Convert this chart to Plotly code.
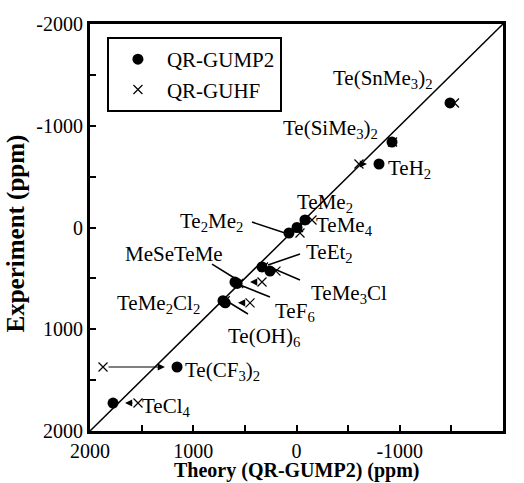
import plotly.graph_objects as go

# ---------------- data ----------------
compounds = ["Te(SnMe3)2", "Te(SiMe3)2", "TeH2", "TeMe4", "TeMe2", "Te2Me2",
             "TeEt2", "TeMe3Cl", "MeSeTeMe", "TeF6", "TeMe2Cl2", "Te(OH)6",
             "Te(CF3)2", "TeCl4"]
experiment = [-1224, -840, -624, -74, 0, 54,
              388, 428, 536, 550, 720, 740,
              1371, 1725]
theory_gump2 = [-1487, -925, -799, -82, -5, 73,
                334, 257, 596, 575, 712, 690,
                1157, 1777]
theory_guhf = [-1530, -930, -605, -150, -20, -34,
               320, 199, 334, 560, 690, 450,
               1874, 1535]
# arrow tips drawn from the GUHF value (None = no arrow)
arrow_tip = [None, None, -683, None, None, None,
             None, None, 450, None, None, 567,
             1274, 1661]

label_html = ["Te(SnMe<sub>3</sub>)<sub>2</sub>", "Te(SiMe<sub>3</sub>)<sub>2</sub>",
              "TeH<sub>2</sub>", "TeMe<sub>4</sub>", "TeMe<sub>2</sub>",
              "Te<sub>2</sub>Me<sub>2</sub>", "TeEt<sub>2</sub>",
              "TeMe<sub>3</sub>Cl", "MeSeTeMe", "TeF<sub>6</sub>",
              "TeMe<sub>2</sub>Cl<sub>2</sub>", "Te(OH)<sub>6</sub>",
              "Te(CF<sub>3</sub>)<sub>2</sub>", "TeCl<sub>4</sub>"]

tick_vals = [-2000, -1500, -1000, -500, 0, 500, 1000, 1500, 2000]
tick_text = ["-2000", "", "-1000", "", "0", "", "1000", "", "2000"]
diag = [2000, -2000]

# ---------------- layout placement (not data) ----------------
label_pos = [(-333, -1499), (151, -1007), (-866, -614), (-169, -54), (15, -280),
             (1148, -90), (-72, 211), (-120, 614), (1681, 220), (228, 791),
             (1759, 715), (684, 1040), (1100, 1371), (1517, 1725)]
pointer_lines = [((431, -54), (111, 54)),
                 ((818, 359), (586, 506)),
                 ((257, 683), (547, 565)),
                 ((470, 850), (644, 742)),
                 ((-34, 260), (276, 369)),
                 ((-34, 516), (237, 398))]

FONT = "Liberation Serif"

fig = go.Figure()
fig.add_trace(go.Scatter(x=diag, y=diag, mode="lines",
                         line=dict(color="black", width=1.5),
                         showlegend=False, hoverinfo="skip"))
fig.add_trace(go.Scatter(x=theory_gump2, y=experiment, mode="markers", name="QR-GUMP2",
                         marker=dict(symbol="circle", size=11, color="black")))
fig.add_trace(go.Scatter(x=theory_guhf, y=experiment, mode="markers", name="QR-GUHF",
                         marker=dict(symbol="x-thin", size=9,
                                     line=dict(color="black", width=1.2), color="black")))

annotations = []
for xh, tip, y in zip(theory_guhf, arrow_tip, experiment):
    if tip is None:
        continue
    annotations.append(dict(x=tip, y=y, ax=xh, ay=y, xref="x", yref="y",
                            axref="x", ayref="y", text="", showarrow=True,
                            arrowhead=2, arrowsize=1.2, arrowwidth=1.2,
                            arrowcolor="black", standoff=0, startstandoff=4))
for txt, (lx, ly) in zip(label_html, label_pos):
    annotations.append(dict(x=lx, y=ly, xref="x", yref="y", text=txt,
                            showarrow=False, xanchor="left", yanchor="middle",
                            yshift=-4,
                            font=dict(family=FONT, size=21, color="black")))
# axis titles
annotations.append(dict(x=0.5, y=0, xref="paper", yref="paper", xanchor="center",
                        yanchor="middle", yshift=-39, showarrow=False,
                        text="<b>Theory (QR-GUMP2) (ppm)</b>",
                        font=dict(family=FONT, size=20, color="black")))
annotations.append(dict(x=0, y=0.5, xref="paper", yref="paper", xanchor="center",
                        yanchor="middle", xshift=-75, yshift=-6, showarrow=False,
                        textangle=-90, text="<b>Experiment (ppm)</b>",
                        font=dict(family=FONT, size=25, color="black")))

shapes = [dict(type="line", xref="x", yref="y", x0=a[0], y0=a[1], x1=b[0], y1=b[1],
               line=dict(color="black", width=1.5)) for a, b in pointer_lines]

axis_common = dict(tickvals=tick_vals, ticktext=tick_text, ticks="inside", ticklen=6,
                   tickwidth=1.5, tickcolor="black", showline=True, linewidth=3,
                   linecolor="black", mirror=True, showgrid=False, zeroline=False,
                   tickfont=dict(family=FONT, size=20, color="black"))

fig.update_layout(
    width=524, height=483,
    margin=dict(l=90, r=21, t=24, b=52),
    paper_bgcolor="white", plot_bgcolor="white",
    xaxis=dict(range=[2000, -2000], **axis_common),
    yaxis=dict(range=[2000, -2000], **axis_common),
    legend=dict(x=0.041, y=0.968, xanchor="left", yanchor="top",
                bordercolor="black", borderwidth=2, bgcolor="white",
                itemwidth=48, font=dict(family=FONT, size=21, color="black")),
    annotations=annotations, shapes=shapes,
)

fig.write_html("out.html", config={"displayModeBar": False},
               post_script="document.body.style.margin='0';")
